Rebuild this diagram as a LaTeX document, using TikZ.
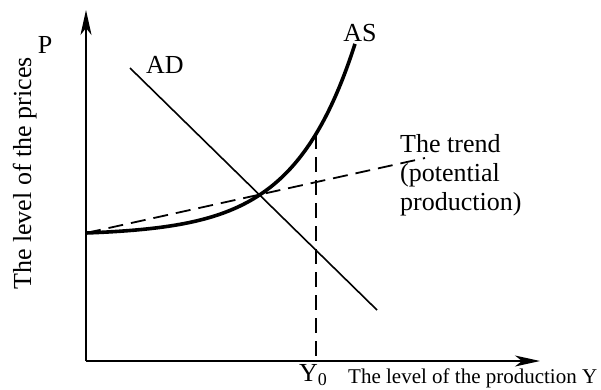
\documentclass[tikz,border=0pt]{standalone}
\usepackage{fontspec}
\setmainfont{Liberation Serif}
\usetikzlibrary{arrows.meta}
\begin{document}
\begin{tikzpicture}[x=1pt,y=-1pt,
  axis/.style={line width=1.8pt,-{Stealth[length=25pt,width=11pt,inset=7pt]}},
  adline/.style={line width=1.6pt},
  asline/.style={line width=3.6pt},
  dashline/.style={line width=1.8pt,dash pattern=on 15pt off 8pt},
  big/.style={font=\fontsize{26}{30}\selectfont,inner sep=0pt},
  small/.style={font=\fontsize{21}{25}\selectfont,inner sep=0pt}]
\useasboundingbox (0,0) rectangle (601,389);
\coordinate (O) at (86,361);
\coordinate (ytip) at (86,10);
\coordinate (xtip) at (540,361);
\coordinate (s) at (86,233);
\coordinate (trendEnd) at (425,158);
\coordinate (adStart) at (130,68);
\coordinate (adEnd) at (377,310);
\coordinate (vtop) at (316,134);
\coordinate (vbot) at (316,361);
% axes
\draw[axis] (O) -- (ytip);
\draw[axis] (O) -- (xtip);
% trend
\draw[dashline] (s) -- (trendEnd);
% vertical dashed
\draw[dashline] (vtop) -- (vbot);
% AD
\draw[adline] (adStart) -- (adEnd);
% AS
\draw[asline] plot[domain=86:355,samples=80,smooth] (\x,{233-2.39*(exp(0.0163*(\x-86))-1)});
% labels
\node[big] (P) at (45,45) {P};
\node[big] (AD) at (165,65) {AD};
\node[big] (AS) at (360,33) {AS};
\node[big,anchor=base west] (t1) at (400,152) {The trend};
\node[big,anchor=base west] (t2) at (400,181) {(potential};
\node[big,anchor=base west] (t3) at (400,210) {production)};
\node[big,rotate=90,anchor=base west] (ylab) at (31,290) {The level of the prices};
\node[big,anchor=base] (Y0) at (313,381) {Y\raisebox{-4pt}{\fontsize{18}{18}\selectfont 0}};
\node[small,anchor=base west] (xlab) at (348,383) {The level of the production Y};
\end{tikzpicture}
\end{document}
